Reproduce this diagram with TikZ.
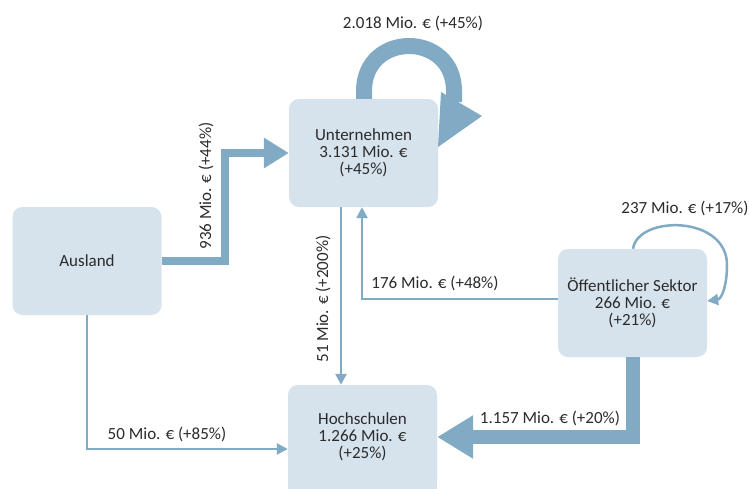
\documentclass[tikz,border=0pt]{standalone}
\usepackage{fontspec}
\setmainfont{Carlito}
\usetikzlibrary{arrows.meta}
\definecolor{boxfill}{HTML}{D6E3ED}
\definecolor{flow}{HTML}{81AAC4}
\definecolor{txt}{HTML}{2B2B2B}
\tikzset{
  box/.style={fill=boxfill, rounded corners=10pt, draw=none, text=txt, align=center,
    minimum width=149pt, minimum height=108pt, inner sep=0pt,
    font=\fontsize{17}{17}\selectfont},
  lbl/.style={text=txt, inner sep=0pt, font=\fontsize{17}{17}\selectfont},
  thinflow/.style={draw=flow, line width=2.5pt, -{Triangle[length=11pt,width=11pt]}},
}
\begin{document}
\begin{tikzpicture}[x=1pt,y=-1pt]
\clip (0,0) rectangle (750,488);
\fill[white] (0,0) rectangle (750,488);
% boxes
\node[box] (au) at (87,261) {Ausland};
\node[box] (un) at (363.5,153) {Unternehmen\\3.131 Mio. €\\(+45\%)};
\node[box] (oe) at (632.5,303) {Öffentlicher Sektor\\266 Mio. €\\(+21\%)};
\node[box, minimum height=104pt] (hs) at (362.5,437) {Hochschulen\\1.266 Mio. €\\(+25\%)};
\fill[boxfill] ([yshift=12pt]hs.south west) rectangle ([yshift=-14pt]hs.south east);
% connectors
\draw[flow, line width=8pt, -{Triangle[length=25pt,width=29pt]}]
  (au.east) -| (225,153) -- (un.west);
\draw[flow, line width=16pt]
  (un.north -| 364,0) -- (364,91) .. controls (364,31) and (454,31) .. (454,91) -- (454,102);
\fill[flow] (441,92) -- (482,116) -- (438,147) -- cycle;
\draw[thinflow] (un.south -| 341,0) -- (hs.north -| 341,0);
\draw[thinflow] (oe.west |- 0,299) -| (un.south -| 362,0);
\draw[flow, line width=14pt, -{Triangle[length=36pt,width=41pt]}]
  (oe.south) |- (hs.east);
\draw[thinflow] (au.south) |- (hs.west |- 0,449);
\draw[thinflow] (oe.north -| 633,0) .. controls (638,215) and (727,215) .. (727,265)
  .. controls (727,285) and (722,299) .. (oe.east |- 0,301);
% labels
\node[lbl] (l1) at (413,23) {2.018 Mio. € (+45\%)};
\node[lbl, rotate=90] (l2) at (206,186) {936 Mio. € (+44\%)};
\node[lbl, rotate=90] (l3) at (323,299) {51 Mio. € (+200\%)};
\node[lbl] (l4) at (435,283) {176 Mio. € (+48\%)};
\node[lbl] (l5) at (685,208) {237 Mio. € (+17\%)};
\node[lbl] (l6) at (550,418) {1.157 Mio. € (+20\%)};
\node[lbl] (l7) at (167,434) {50 Mio. € (+85\%)};
\end{tikzpicture}
\end{document}
